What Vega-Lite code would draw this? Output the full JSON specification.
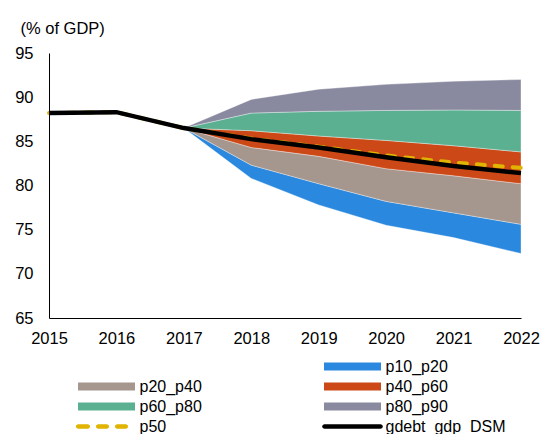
{
  "$schema": "https://vega.github.io/schema/vega-lite/v6.json",
  "width": 472,
  "height": 265,
  "autosize": {"type": "none"},
  "padding": {"left": 49, "top": 53, "right": 21, "bottom": 116},
  "config": {
    "font": "Liberation Sans",
    "view": {"stroke": null},
    "axis": {"grid": false, "ticks": false, "domainColor": "#000000", "domainWidth": 1, "labelColor": "#000000", "labelFontSize": 16.5, "labelFont": "Liberation Sans"}
  },
  "datasets": {
    "bands": [
      {"year": 2017, "series": "p10_p20", "value": 86.5, "upper": 86.5},
      {"year": 2018, "series": "p10_p20", "value": 80.8, "upper": 82.3},
      {"year": 2019, "series": "p10_p20", "value": 77.8, "upper": 80.2},
      {"year": 2020, "series": "p10_p20", "value": 75.5, "upper": 78.2},
      {"year": 2021, "series": "p10_p20", "value": 74.1, "upper": 76.9},
      {"year": 2022, "series": "p10_p20", "value": 72.3, "upper": 75.6},
      {"year": 2017, "series": "p20_p40", "value": 86.5, "upper": 86.5},
      {"year": 2018, "series": "p20_p40", "value": 82.3, "upper": 84.3},
      {"year": 2019, "series": "p20_p40", "value": 80.2, "upper": 83.3},
      {"year": 2020, "series": "p20_p40", "value": 78.2, "upper": 81.9},
      {"year": 2021, "series": "p20_p40", "value": 76.9, "upper": 81.1},
      {"year": 2022, "series": "p20_p40", "value": 75.6, "upper": 80.2},
      {"year": 2017, "series": "p40_p60", "value": 86.5, "upper": 86.5},
      {"year": 2018, "series": "p40_p60", "value": 84.3, "upper": 86.2},
      {"year": 2019, "series": "p40_p60", "value": 83.3, "upper": 85.6},
      {"year": 2020, "series": "p40_p60", "value": 81.9, "upper": 85.1},
      {"year": 2021, "series": "p40_p60", "value": 81.1, "upper": 84.5},
      {"year": 2022, "series": "p40_p60", "value": 80.2, "upper": 83.8},
      {"year": 2017, "series": "p60_p80", "value": 86.5, "upper": 86.5},
      {"year": 2018, "series": "p60_p80", "value": 86.2, "upper": 88.2},
      {"year": 2019, "series": "p60_p80", "value": 85.6, "upper": 88.4},
      {"year": 2020, "series": "p60_p80", "value": 85.1, "upper": 88.5},
      {"year": 2021, "series": "p60_p80", "value": 84.5, "upper": 88.55},
      {"year": 2022, "series": "p60_p80", "value": 83.8, "upper": 88.5},
      {"year": 2017, "series": "p80_p90", "value": 86.5, "upper": 86.5},
      {"year": 2018, "series": "p80_p90", "value": 88.2, "upper": 89.75},
      {"year": 2019, "series": "p80_p90", "value": 88.4, "upper": 90.9},
      {"year": 2020, "series": "p80_p90", "value": 88.5, "upper": 91.45},
      {"year": 2021, "series": "p80_p90", "value": 88.55, "upper": 91.8},
      {"year": 2022, "series": "p80_p90", "value": 88.5, "upper": 92.0}
    ],
    "median": [
      {"year": 2015, "series": "p50", "value": 88.2},
      {"year": 2016, "series": "p50", "value": 88.3},
      {"year": 2017, "series": "p50", "value": 86.5},
      {"year": 2018, "series": "p50", "value": 85.3},
      {"year": 2019, "series": "p50", "value": 84.4},
      {"year": 2020, "series": "p50", "value": 83.4},
      {"year": 2021, "series": "p50", "value": 82.6},
      {"year": 2022, "series": "p50", "value": 82.0}
    ],
    "debt": [
      {"year": 2015, "series": "gdebt_gdp_DSM", "value": 88.2},
      {"year": 2016, "series": "gdebt_gdp_DSM", "value": 88.3},
      {"year": 2017, "series": "gdebt_gdp_DSM", "value": 86.5},
      {"year": 2018, "series": "gdebt_gdp_DSM", "value": 85.25},
      {"year": 2019, "series": "gdebt_gdp_DSM", "value": 84.3},
      {"year": 2020, "series": "gdebt_gdp_DSM", "value": 83.2},
      {"year": 2021, "series": "gdebt_gdp_DSM", "value": 82.2},
      {"year": 2022, "series": "gdebt_gdp_DSM", "value": 81.4}
    ]
  },
  "encoding": {
    "x": {
      "field": "year", "type": "quantitative",
      "scale": {"domain": [2015, 2022], "nice": false, "zero": false},
      "axis": {"values": [2015, 2016, 2017, 2018, 2019, 2020, 2021, 2022], "format": "d", "title": null, "labelPadding": 12, "labelFlush": false}
    },
    "y": {
      "field": "value", "type": "quantitative",
      "scale": {"domain": [65, 95], "nice": false, "zero": false},
      "axis": {
        "values": [65, 70, 75, 80, 85, 90, 95], "labelPadding": 16, "labelFlush": false,
        "title": "(% of GDP)", "titleAngle": 0, "titleAlign": "left", "titleBaseline": "alphabetic",
        "titleX": -29, "titleY": -20, "titleFontSize": 16.5, "titleFontWeight": "normal", "titleColor": "#000000", "titleFont": "Liberation Sans"
      }
    },
    "color": {
      "field": "series", "type": "nominal",
      "scale": {
        "domain": [" ", "p10_p20", "p20_p40", "p40_p60", "p60_p80", "p80_p90", "p50", "gdebt_gdp_DSM"],
        "range": ["rgba(0,0,0,0)", "#2a88de", "#a5968e", "#cc4816", "#5cb092", "#898aa0", "#e0b400", "#000000"]
      },
      "legend": {
        "title": null, "orient": "none", "legendX": 29, "legendY": 305.5,
        "direction": "horizontal",
        "columns": 2, "columnPadding": 120, "rowPadding": 4, "padding": 0,
        "labelFontSize": 16, "labelColor": "#000000", "labelFont": "Liberation Sans", "labelLimit": 300,
        "symbolSize": 100, "symbolOffset": 20.5, "labelOffset": 25,
        "encode": {
          "symbols": {
            "update": {
              "shape": {"signal": "datum.value === 'p50' ? 'M-5.65,-0.45H-3.75A0.45,0.45,0,0,1,-3.75,0.45H-5.65A0.45,0.45,0,0,1,-5.65,-0.45Z M-1.65,-0.45H0.05A0.45,0.45,0,0,1,0.05,0.45H-1.65A0.45,0.45,0,0,1,-1.65,-0.45Z M2.15,-0.45H3.85A0.45,0.45,0,0,1,3.85,0.45H2.15A0.45,0.45,0,0,1,2.15,-0.45Z' : (datum.value === 'gdebt_gdp_DSM' ? 'M-5.6,-0.45H5.6A0.45,0.45,0,0,1,5.6,0.45H-5.6A0.45,0.45,0,0,1,-5.6,-0.45Z' : 'M-5.7,-0.8H5.7V0.8H-5.7Z')"},
              "fill": {"scale": "color", "field": "value"},
              "stroke": {"value": "transparent"},
              "strokeWidth": {"value": 0},
              "opacity": {"value": 1},
              "fillOpacity": {"value": 1}
            }
          }
        }
      }
    }
  },
  "layer": [
    {
      "data": {"name": "bands"},
      "mark": {"type": "area", "stroke": "#ffffff", "strokeWidth": 0.7, "strokeOpacity": 0.5, "fillOpacity": 1},
      "encoding": {"y2": {"field": "upper"}}
    },
    {
      "data": {"name": "median"},
      "mark": {"type": "line", "strokeWidth": 4, "strokeDash": [8, 10], "strokeCap": "round"}
    },
    {
      "data": {"name": "debt"},
      "mark": {"type": "line", "strokeWidth": 4.5}
    }
  ]
}
